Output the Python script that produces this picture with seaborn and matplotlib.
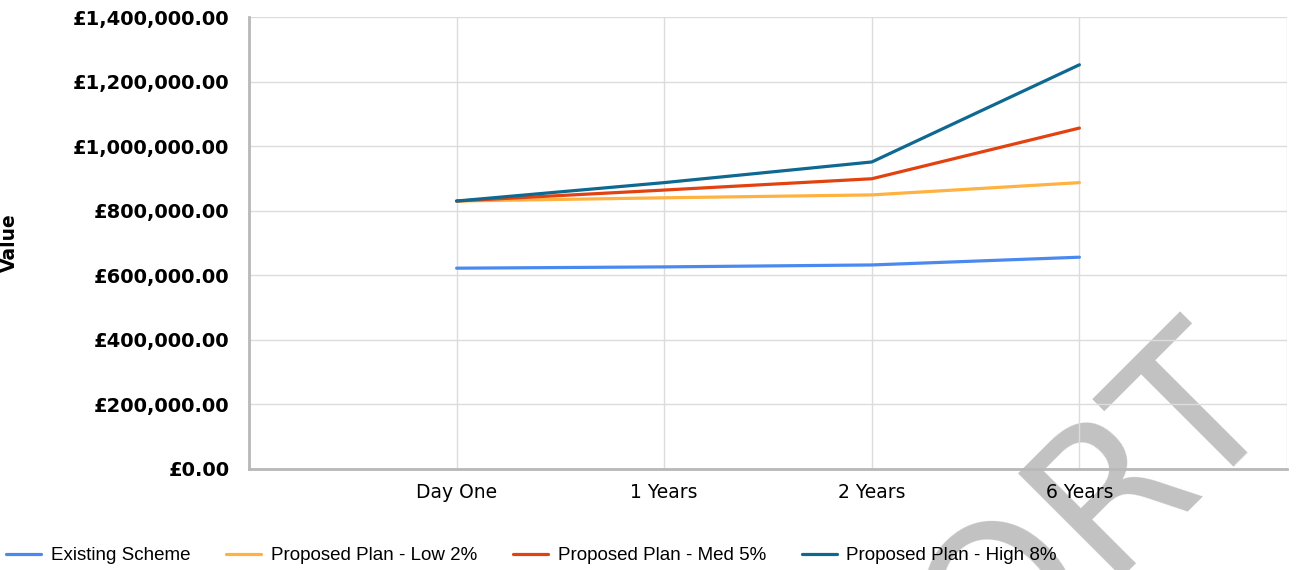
import pandas as pd
import matplotlib
matplotlib.use("Agg")
import matplotlib.pyplot as plt
import seaborn as sns
from matplotlib.ticker import FuncFormatter, FixedLocator

periods = ["Day One", "1 Years", "2 Years", "6 Years"]
existing = [622000, 626000, 632000, 656000]
low_2 = [830000, 840000, 849000, 887000]
med_5 = [830000, 864000, 899000, 1056000]
high_8 = [830000, 887000, 951000, 1252000]

series_names = ["Existing Scheme", "Proposed Plan - Low 2%",
                "Proposed Plan - Med 5%", "Proposed Plan - High 8%"]
colours = ["#4a8af0", "#ffb23f", "#e2420f", "#0e6890"]

rows = []
for name, vals in zip(series_names, [existing, low_2, med_5, high_8]):
    for i, v in enumerate(vals):
        rows.append({"pos": i, "Period": periods[i], "Value": v, "Series": name})
df = pd.DataFrame(rows)

sns.set_style("white")
plt.rcParams["font.family"] = ["DejaVu Sans"]
plt.rcParams["text.color"] = "black"
plt.rcParams["xtick.color"] = "black"
plt.rcParams["ytick.color"] = "black"

fig = plt.figure(figsize=(12.97, 5.70), dpi=100)
ax = fig.add_axes([249 / 1297, 1 - 469 / 570, (1287 - 249) / 1297, (469 - 17) / 570])
ax.set_facecolor("none")

sns.lineplot(data=df, x="pos", y="Value", hue="Series", hue_order=series_names,
             palette=colours, linewidth=2.3, ax=ax, legend=False)

ax.set_xlim(-1, 4)
ax.set_ylim(0, 1400000)
ax.xaxis.set_major_locator(FixedLocator([-1, 0, 1, 2, 3, 4]))
ax.set_xticklabels([""] + periods + [""], fontsize=13.5)
ax.set_yticks(range(0, 1400001, 200000))
ax.yaxis.set_major_formatter(FuncFormatter(lambda v, p: "£{:,.2f}".format(v)))
for lbl in ax.get_yticklabels():
    lbl.set_fontweight("bold")
    lbl.set_fontsize(14)

ax.set_xlabel("")
ax.set_ylabel("Value", fontsize=13.5, fontweight="bold", color="black")
ax.yaxis.set_label_coords(-(249 - 19) / 1038, 0.5)

ax.grid(True, color="#dcdcdc", linewidth=1)
ax.set_axisbelow(True)
for s in ["top", "right"]:
    ax.spines[s].set_visible(False)
for s in ["left", "bottom"]:
    ax.spines[s].set_color("#b8b8b8")
    ax.spines[s].set_linewidth(2)
ax.tick_params(axis="y", length=13, width=1, color="#555555", pad=1)
ax.tick_params(axis="x", length=7, width=1, color="#555555", pad=3)

handles = [plt.Line2D([], [], color=c, linewidth=2.3) for c in colours]
fig.legend(handles, series_names, loc="lower left", bbox_to_anchor=(0.0, 0.0),
           ncol=4, frameon=False, prop={"family": "Liberation Sans", "size": 13.5},
           handlelength=1.9, handletextpad=0.5, columnspacing=1.9,
           borderaxespad=0.2, borderpad=0.1)

fig.text(1284 / 1297, 1 - 415 / 570, "DRAFT REPORT", fontsize=145, color="#c2c2c2",
         rotation=45, rotation_mode="anchor", ha="right", va="baseline", zorder=-1)

fig.savefig("out.png", dpi=100)
